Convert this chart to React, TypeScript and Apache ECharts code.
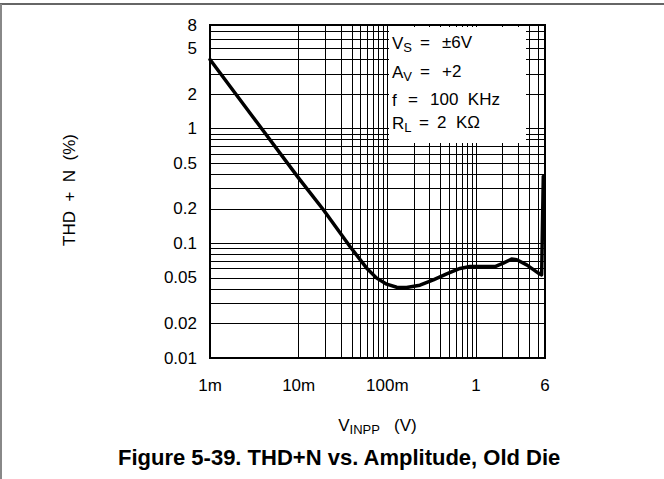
import React, { useEffect, useRef } from 'react';
import * as echarts from 'echarts';

// Curve data (V_INPP in volts, THD+N in %)
const vinpp = [0.001, 0.01, 0.019, 0.0379, 0.0585, 0.0759, 0.0984, 0.1275, 0.165, 0.233, 0.33, 0.467, 0.66, 0.855, 1.64, 2.03, 2.52, 2.88, 3.73, 5.05, 5.5, 5.74];
const thdn = [4.0, 0.37, 0.196, 0.0938, 0.0607, 0.0497, 0.044, 0.0414, 0.0412, 0.0431, 0.048, 0.0541, 0.0603, 0.0627, 0.0627, 0.0671, 0.0728, 0.0718, 0.0649, 0.0549, 0.0531, 0.383];

// Tick labels
const xTickValues = [0.001, 0.01, 0.1, 1, 6];
const xTickLabels = ['1m', '10m', '100m', '1', '6'];
const yTickValues = [0.01, 0.02, 0.05, 0.1, 0.2, 0.5, 1, 2, 5, 8];
const yTickLabels = ['0.01', '0.02', '0.05', '0.1', '0.2', '0.5', '1', '2', '5', '8'];

// Log grid lines
const xGridValues = [
  0.002, 0.003, 0.004, 0.005, 0.006, 0.007, 0.008, 0.009,
  0.01, 0.02, 0.03, 0.04, 0.05, 0.06, 0.07, 0.08, 0.09,
  0.1, 0.2, 0.3, 0.4, 0.5, 0.6, 0.7, 0.8, 0.9,
  1, 2, 3, 4, 5,
];
const yGridValues = [
  0.02, 0.03, 0.04, 0.05, 0.06, 0.07, 0.08, 0.09,
  0.1, 0.2, 0.3, 0.4, 0.5, 0.6, 0.7, 0.8, 0.9,
  1, 2, 3, 4, 5, 6, 7,
];

const FONT = 'Liberation Sans';

function pickLabel(values: number[], labels: string[], v: number): string {
  for (let i = 0; i < values.length; i++) {
    if (Math.abs(Math.log10(v) - Math.log10(values[i])) < 0.005) return labels[i];
  }
  return '';
}

const subRich = {
  m: { fontSize: 17, fontFamily: FONT, color: '#000', lineHeight: 19, verticalAlign: 'top' },
  s: { fontSize: 13, fontFamily: FONT, color: '#000', lineHeight: 15, padding: [8, 0, 0, 0], verticalAlign: 'bottom' },
};

export default function App() {
  const ref = useRef<HTMLDivElement>(null);

  useEffect(() => {
    document.body.style.margin = '0';
    if (!ref.current) return;
    const chart = echarts.init(ref.current, undefined, { renderer: 'svg' });

    const boxLines = [
      { lhs: '{m|V}{s|S}', y: 42, eqX: 420, rhs: '±6V', rhsX: 442 },
      { lhs: '{m|A}{s|V}', y: 71, eqX: 420, rhs: '+2', rhsX: 442 },
      { lhs: '{m|f}', y: 99, eqX: 408, rhs: '100  KHz', rhsX: 430 },
      { lhs: '{m|R}{s|L}', y: 122, eqX: 419, rhs: '2  KΩ', rhsX: 437 },
    ];

    const graphics: any[] = [
      // outer figure frame
      { type: 'line', shape: { x1: 0, y1: 4, x2: 664, y2: 4 }, style: { stroke: '#666', lineWidth: 2 }, z: 200 },
      { type: 'line', shape: { x1: 1, y1: 4, x2: 1, y2: 479 }, style: { stroke: '#888', lineWidth: 2 }, z: 200 },
      // annotation box
      { type: 'rect', shape: { x: 389, y: 27, width: 137, height: 116 }, style: { fill: '#fff' }, z: 100 },
      // y axis name
      {
        type: 'text', x: 69, y: 190, rotation: Math.PI / 2, z: 100,
        style: { text: 'THD  +  N  (%)', fontSize: 17, fontFamily: FONT, fill: '#000', align: 'center', verticalAlign: 'middle' },
      },
    ];
    boxLines.forEach((l) => {
      graphics.push({
        type: 'text', x: 392, y: l.y + 2, z: 110,
        style: { text: l.lhs, rich: subRich, align: 'left', verticalAlign: 'middle' },
      });
      graphics.push({
        type: 'text', x: l.eqX, y: l.y, z: 110,
        style: { text: '=', fontSize: 17, fontFamily: FONT, fill: '#000', align: 'left', verticalAlign: 'middle' },
      });
      graphics.push({
        type: 'text', x: l.rhsX, y: l.y, z: 110,
        style: { text: l.rhs, fontSize: 17, fontFamily: FONT, fill: '#000', align: 'left', verticalAlign: 'middle' },
      });
    });

    const option: any = {
      animation: false,
      backgroundColor: '#fff',
      title: {
        text: 'Figure 5-39. THD+N vs. Amplitude, Old Die',
        left: 118,
        top: 446,
        padding: 0,
        textStyle: { fontFamily: FONT, fontWeight: 'bold', fontSize: 22, color: '#000' },
      },
      grid: {
        left: 210, right: 119, top: 25, bottom: 121,
        show: true, borderColor: '#000', borderWidth: 2, backgroundColor: 'transparent', z: 3,
      },
      xAxis: {
        type: 'log',
        logBase: 10,
        min: 0.001,
        max: 6,
        name: '{m|V}{s|INPP}{m|   (V)}',
        nameLocation: 'middle',
        nameGap: 59,
        nameTextStyle: { rich: subRich },
        axisLine: { show: false },
        axisTick: { show: false },
        splitLine: { show: false },
        minorTick: { show: false },
        minorSplitLine: { show: false },
        axisLabel: {
          customValues: xTickValues,
          margin: 19,
          fontSize: 17,
          fontFamily: FONT,
          color: '#000',
          formatter: (v: number) => pickLabel(xTickValues, xTickLabels, v),
        },
      },
      yAxis: {
        type: 'log',
        logBase: 10,
        min: 0.01,
        max: 8,
        axisLine: { show: false },
        axisTick: { show: false },
        splitLine: { show: false },
        minorTick: { show: false },
        minorSplitLine: { show: false },
        axisLabel: {
          customValues: yTickValues,
          margin: 13,
          fontSize: 17,
          fontFamily: FONT,
          color: '#000',
          formatter: (v: number) => pickLabel(yTickValues, yTickLabels, v),
        },
      },
      series: [
        {
          type: 'line',
          name: 'grid',
          data: [],
          z: 1,
          silent: true,
          markLine: {
            silent: true,
            symbol: ['none', 'none'],
            label: { show: false },
            lineStyle: { color: '#000', width: 1, type: 'solid' },
            emphasis: { disabled: true },
            data: [
              ...xGridValues.map((v) => ({ xAxis: v })),
              ...yGridValues.map((v) => ({ yAxis: v })),
            ],
          },
        },
        {
          type: 'line',
          name: 'THD+N',
          data: vinpp.map((x, i) => [x, thdn[i]]),
          showSymbol: false,
          smooth: false,
          z: 5,
          lineStyle: { color: '#000', width: 3.5, join: 'round', cap: 'round' },
        },
      ],
      graphic: graphics,
    };

    chart.setOption(option);
    return () => chart.dispose();
  }, []);

  return <div ref={ref} style={{ width: 664, height: 479 }} />;
}
